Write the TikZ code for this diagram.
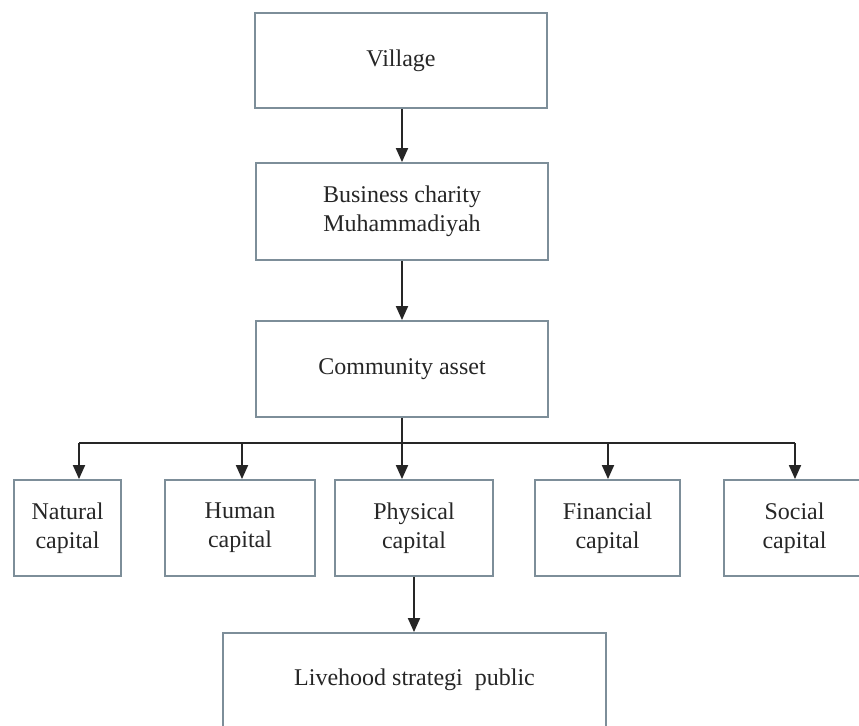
\documentclass[tikz,border=0pt]{standalone}
\usepackage{fontspec}
\setmainfont{Liberation Serif}
\usetikzlibrary{arrows.meta}
\definecolor{boxline}{HTML}{7D8E99}
\definecolor{textgray}{HTML}{262626}
\tikzset{
  box/.style={draw=boxline, line width=0.9pt, text=textgray, align=center,
    inner sep=0pt, font=\fontsize{12}{14.5}\selectfont},
  link/.style={-{Triangle[width=6pt,length=7pt]}, line width=0.9pt, draw=black!85},
  bus/.style={line width=0.9pt, draw=black!85},
}
\begin{document}
\begin{tikzpicture}[x=0.5pt,y=-0.5pt]
      \useasboundingbox (0,0) rectangle (859,726);
      \clip (0,0) rectangle (859,726);
      \draw
        (401,60.5) node[box,minimum width=146pt,minimum height=47.5pt] (village){Village}
        (402,211.5) node[box,minimum width=146pt,minimum height=48.5pt] (charity){Business charity\\Muhammadiyah}
        (402,369) node[box,minimum width=146pt,minimum height=48pt] (asset){Community asset}
        (67.5,528) node[box,minimum width=53.5pt,minimum height=48pt] (natural){Natural\\capital}
        (240,528) node[box,minimum width=75pt,minimum height=48pt] (human){Human\\capital}
        (414,528) node[box,minimum width=79pt,minimum height=48pt] (physical){Physical\\capital}
        (607.5,528) node[box,minimum width=72.5pt,minimum height=48pt] (financial){Financial\\capital}
        (794.5,528) node[box,minimum width=70.5pt,minimum height=48pt] (social){Social\\capital}
        (414.5,680) node[box,minimum width=191.5pt,minimum height=47pt] (livehood){Livehood strategi~~public};
      \coordinate (hub) at (402,443);
      \coordinate (tNatural) at (79,443);
      \coordinate (tHuman) at (242,443);
      \coordinate (tPhysical) at (402,443);
      \coordinate (tFinancial) at (608,443);
      \coordinate (tSocial) at (795,443);
      \begin{scope}[link]
        \draw (charity.north |- village.south) to (charity);
        \draw (charity) to (asset);
        \draw (tNatural) to (tNatural |- natural.north);
        \draw (tHuman) to (tHuman |- human.north);
        \draw (tPhysical) to (tPhysical |- physical.north);
        \draw (tFinancial) to (tFinancial |- financial.north);
        \draw (tSocial) to (tSocial |- social.north);
        \draw (physical.south) to (physical.south |- livehood.north);
      \end{scope}
      \draw[bus] (asset) to (hub);
      \draw[bus] (tNatural) to (tSocial);
    \end{tikzpicture}
\end{document}
